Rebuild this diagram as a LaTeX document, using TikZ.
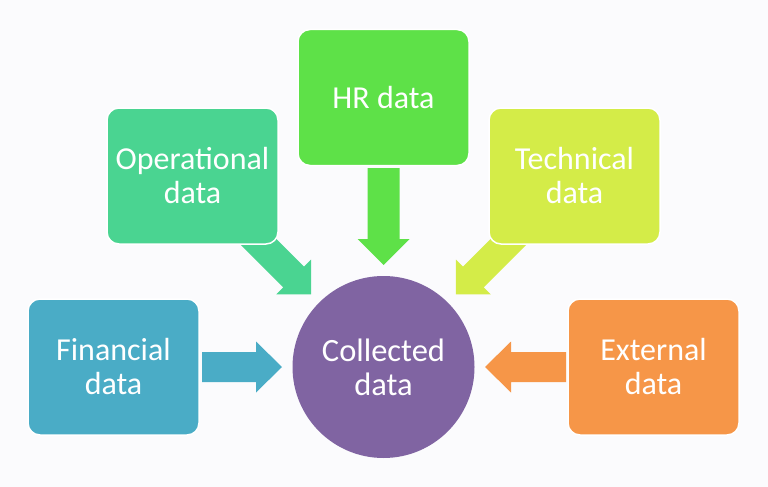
\documentclass[tikz,border=0pt]{standalone}
\usepackage{fontspec}
\setmainfont{Carlito}
\definecolor{bgc}{RGB}{251,251,253}
\definecolor{cfin}{RGB}{74,172,198}
\definecolor{cops}{RGB}{74,212,145}
\definecolor{chr}{RGB}{94,225,72}
\definecolor{ctech}{RGB}{212,236,72}
\definecolor{cext}{RGB}{246,150,72}
\definecolor{ccoll}{RGB}{128,100,162}
\tikzset{
  databox/.style={rectangle, rounded corners=12pt, draw=white, line width=1.5pt,
    minimum width=171pt, minimum height=136pt, inner sep=0pt, align=center,
    text=white, font=\fontsize{32}{34}\selectfont},
}
% #1 style, #2 centre, #3 angle, #4 half length, #5 half shaft, #6 half head, #7 head length
\newcommand\myblockarrow[7]{%
  \fill[#1, shift={#2}, rotate=#3]
    (-#4,-#5) -- ({#4-#7},-#5) -- ({#4-#7},-#6) -- (#4,0) -- ({#4-#7},#6)
    -- ({#4-#7},#5) -- (-#4,#5) -- cycle;}
\begin{document}
\begin{tikzpicture}[x=1pt,y=-1pt]
\fill[bgc] (0,0) rectangle (768,487);
\useasboundingbox (0,0) rectangle (768,487);
% arrows
\myblockarrow{chr}{(383.5,216.5)}{-90}{48.5}{16}{26}{26}
\myblockarrow{cfin}{(242,367)}{0}{40}{15}{25.5}{26}
\myblockarrow{cext}{(525.5,367)}{180}{40.5}{15}{25.5}{26}
\myblockarrow{cops}{(273,256.3)}{-45}{54}{14.7}{24.7}{24.7}
\myblockarrow{ctech}{(494,256.3)}{-135}{54}{14.7}{24.7}{24.7}
% boxes
\node[databox, fill=chr] (hr) at (383.5,97.5) {HR data};
\node[databox, fill=cops] (ops) at (192.5,176) {Operational\\data};
\node[databox, fill=ctech] (tech) at (574.5,176) {Technical\\data};
\node[databox, fill=cfin] (fin) at (113.5,367) {Financial\\data};
\node[databox, fill=cext] (ext) at (653.5,367) {External\\data};
\node[circle, fill=ccoll, minimum size=182pt, inner sep=0pt, align=center, text=white,
  font=\fontsize{32.5}{34}\selectfont] (coll) at (383.5,367) {Collected\\data};
\end{tikzpicture}
\end{document}
